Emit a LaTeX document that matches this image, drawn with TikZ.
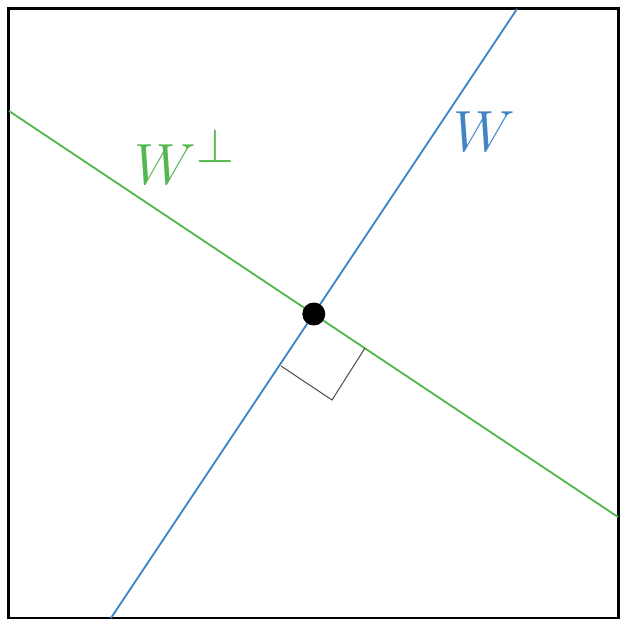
\documentclass[tikz,border=0pt]{standalone}
\usepackage{tikz}
\usetikzlibrary{calc}
\definecolor{subblue}{RGB}{66,133,196}
\definecolor{subgreen}{RGB}{84,184,80}
\definecolor{markgray}{RGB}{80,80,80}

\begin{document}
\begin{tikzpicture}[
        x=0.02cm, y=-0.02cm,
        subspace/.style={draw=#1, line width=1.1pt},
        sublabel/.style={text=#1, inner sep=0pt, anchor=base west,
            font=\Huge, scale=1.33}
    ]
        \useasboundingbox (0,0) rectangle (620,619);
        \draw[line width=1.2pt] (8.5,8.5) rectangle (618.5,618);
        % the two lines
        \coordinate (wlo) at (111,618);
        \coordinate (whi) at (517,9);
        \coordinate (plo) at (9,111);
        \coordinate (phi) at (618,517);
        \coordinate (o) at (313.8,314);
        \draw[subspace=subgreen] (plo) -- (phi);
        \draw[subspace=subblue] (wlo) -- (whi);
        % right angle mark
        \coordinate (ma) at (281,366);
        \coordinate (mb) at (365,348);
        \coordinate (mc) at (332,400);
        \draw[markgray, line width=0.6pt] (ma) -- (mc) -- (mb);
        \fill[black] (o) circle (11.5);
        \node[sublabel=subblue] (w) at (453,151) {$W$};
        \node[sublabel=subgreen] (wp) at (134,184) {$W^{\perp}$};
    \end{tikzpicture}
\end{document}
